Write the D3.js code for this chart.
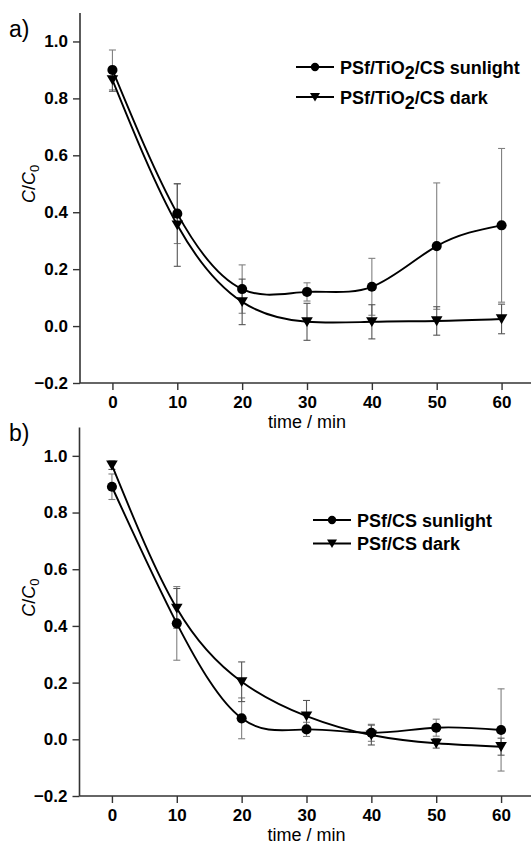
<!DOCTYPE html>
<html>
<head>
<meta charset="utf-8">
<script src="https://cdn.jsdelivr.net/npm/d3@7"></script>
<style>
  body { margin: 0; background: #fff; }
  svg { display: block; font-family: Arial, "Liberation Sans", sans-serif; }
  .tick text { font-weight: bold; font-size: 17px; fill: #000; }
  .legend-text { font-weight: bold; font-size: 18px; }
</style>
</head>
<body>
<script>
// values
var times = [0, 10, 20, 30, 40, 50, 60];

// panel a) PSf/TiO2/CS
var aSunlight = [0.900, 0.395, 0.130, 0.120, 0.138, 0.281, 0.354];
var aSunlightErr = [0.070, 0.105, 0.085, 0.032, 0.100, 0.222, 0.270];
var aDark = [0.865, 0.355, 0.085, 0.015, 0.015, 0.018, 0.025];
var aDarkErr = [0.040, 0.145, 0.080, 0.065, 0.060, 0.050, 0.052];

// panel b) PSf/CS
var bSunlight = [0.891, 0.409, 0.074, 0.035, 0.023, 0.041, 0.033];
var bSunlightErr = [0.045, 0.130, 0.072, 0.025, 0.030, 0.030, 0.145];
var bDark = [0.967, 0.462, 0.203, 0.082, 0.015, -0.014, -0.026];
var bDarkErr = [0.015, 0.070, 0.070, 0.055, 0.035, 0.017, 0.030];

var xTicks = [0, 10, 20, 30, 40, 50, 60];
var yTicks = [-0.2, 0.0, 0.2, 0.4, 0.6, 0.8, 1.0];

var svg_width = 531;
var svg_height = 844;

var svg = d3.select('body').append('svg')
  .attr('width', svg_width)
  .attr('height', svg_height);

// draws one panel; top/bottom are the pixel ends of the y axis
function drawPanel(p) {
  var xScale = d3.scaleLinear().domain([-5, 65]).range([p.left, p.left + 454]);
  var yScale = d3.scaleLinear().domain([-0.2, 1.1]).range([p.bottom, p.top]);

  var g = svg.append('g');

  // error bars first so the marks sit on top
  var series = [
    {vals: p.sun, err: p.sunErr, color: '#808080'},
    {vals: p.dark, err: p.darkErr, color: '#555'}
  ];
  series.forEach(function(s) {
    var eb = g.append('g').selectAll('g')
      .data(times.map(function(t, i) { return {t: t, v: s.vals[i], e: s.err[i]}; }))
      .enter().append('g')
      .attr('stroke', s.color)
      .attr('stroke-width', 1.1);
    eb.append('line')
      .attr('x1', d => xScale(d.t)).attr('x2', d => xScale(d.t))
      .attr('y1', d => yScale(d.v - d.e)).attr('y2', d => yScale(d.v + d.e));
    eb.append('line')
      .attr('x1', d => xScale(d.t) - 3.5).attr('x2', d => xScale(d.t) + 3.5)
      .attr('y1', d => yScale(d.v + d.e)).attr('y2', d => yScale(d.v + d.e));
    eb.append('line')
      .attr('x1', d => xScale(d.t) - 3.5).attr('x2', d => xScale(d.t) + 3.5)
      .attr('y1', d => yScale(d.v - d.e)).attr('y2', d => yScale(d.v - d.e));
  });

  // spline curves
  var line = d3.line()
    .x((d, i) => xScale(times[i]))
    .y(d => yScale(d))
    .curve(d3.curveNatural);

  [p.sun, p.dark].forEach(function(vals) {
    g.append('path')
      .attr('d', line(vals))
      .attr('fill', 'none')
      .attr('stroke', '#000')
      .attr('stroke-width', 1.9);
  });

  var circle = d3.symbol().type(d3.symbolCircle).size(80);
  var tri = 'M-5.8,-4.6L5.8,-4.6L0,5.2Z';

  g.selectAll('.sun-pt')
    .data(p.sun).enter().append('path')
    .attr('d', circle)
    .attr('transform', (d, i) => 'translate(' + xScale(times[i]) + ',' + yScale(d) + ')')
    .attr('fill', '#000');

  g.selectAll('.dark-pt')
    .data(p.dark).enter().append('path')
    .attr('d', tri)
    .attr('transform', (d, i) => 'translate(' + xScale(times[i]) + ',' + yScale(d) + ')')
    .attr('fill', '#000');

  // axes
  var xaxis = d3.axisBottom(xScale).tickValues(xTicks).tickSize(7).tickPadding(6)
    .tickFormat(d3.format('d'));
  var yaxis = d3.axisLeft(yScale).tickValues(yTicks).tickSize(7).tickPadding(5)
    .tickFormat(d3.format('.1f'));

  var xa = g.append('g')
    .attr('transform', 'translate(0,' + p.bottom + ')')
    .call(xaxis);
  var ya = g.append('g')
    .attr('transform', 'translate(' + p.left + ',0)')
    .call(yaxis);
  [xa, ya].forEach(function(a) {
    a.select('.domain').attr('stroke', '#333').attr('stroke-width', 1.6);
    a.selectAll('.tick line').attr('stroke', '#333').attr('stroke-width', 1.4);
    a.selectAll('.tick text').attr('font-family', null).attr('font-size', null);
  });
  // only the lines that the plot has: left and bottom, no outer tick stubs
  xa.select('.domain').attr('d', 'M' + p.left + ',0H' + (p.left + 454));
  ya.select('.domain').attr('d', 'M0,' + p.top + 'V' + p.bottom);

  // x axis title
  g.append('text')
    .attr('x', xScale(30))
    .attr('y', p.bottom + 44.5)
    .attr('text-anchor', 'middle')
    .attr('font-size', 18)
    .text('time / min');

  // y axis title  C/C0
  var yt = g.append('text')
    .attr('text-anchor', 'middle')
    .attr('font-size', 18)
    .attr('transform', 'translate(35,' + yScale(0.5) + ') rotate(-90)');
  yt.append('tspan').attr('font-style', 'italic').text('C');
  yt.append('tspan').text('/');
  yt.append('tspan').attr('font-style', 'italic').text('C');
  yt.append('tspan').attr('font-size', 13).attr('dy', 4).text('0');

  // panel letter
  g.append('text')
    .attr('x', 9)
    .attr('y', p.letterY)
    .attr('font-size', 23)
    .text(p.letter);

  // legend
  var leg = g.append('g');
  p.legend.forEach(function(item, i) {
    var ly = p.legY + i * p.legStep;
    leg.append('line')
      .attr('x1', p.legX).attr('x2', p.legX + 38)
      .attr('y1', ly).attr('y2', ly)
      .attr('stroke', '#000').attr('stroke-width', 1.9);
    leg.append('path')
      .attr('d', i === 0 ? d3.symbol().type(d3.symbolCircle).size(55)() : 'M-5,-4L5,-4L0,4.5Z')
      .attr('transform', 'translate(' + (p.legX + 19) + ',' + ly + ')')
      .attr('fill', '#000');
    var t = leg.append('text')
      .attr('class', 'legend-text')
      .attr('x', p.legX + 44)
      .attr('y', ly + 6.5);
    item.forEach(function(part) {
      if (part.sub) {
        t.append('tspan').attr('dy', 5).text(part.sub);
      } else {
        t.append('tspan').attr('dy', part.back ? -5 : 0).text(part.txt);
      }
    });
  });
}

drawPanel({
  left: 80, top: 13, bottom: 383,
  sun: aSunlight, sunErr: aSunlightErr, dark: aDark, darkErr: aDarkErr,
  letter: 'a)', letterY: 37,
  legX: 296, legY: 67, legStep: 30,
  legend: [
    [{txt: 'PSf/TiO'}, {sub: '2'}, {txt: '/CS sunlight', back: true}],
    [{txt: 'PSf/TiO'}, {sub: '2'}, {txt: '/CS dark', back: true}]
  ]
});

drawPanel({
  left: 79.5, top: 427.5, bottom: 796,
  sun: bSunlight, sunErr: bSunlightErr, dark: bDark, darkErr: bDarkErr,
  letter: 'b)', letterY: 441,
  legX: 313, legY: 520, legStep: 23.5,
  legend: [
    [{txt: 'PSf/CS sunlight'}],
    [{txt: 'PSf/CS dark'}]
  ]
});
</script>
</body>
</html>
